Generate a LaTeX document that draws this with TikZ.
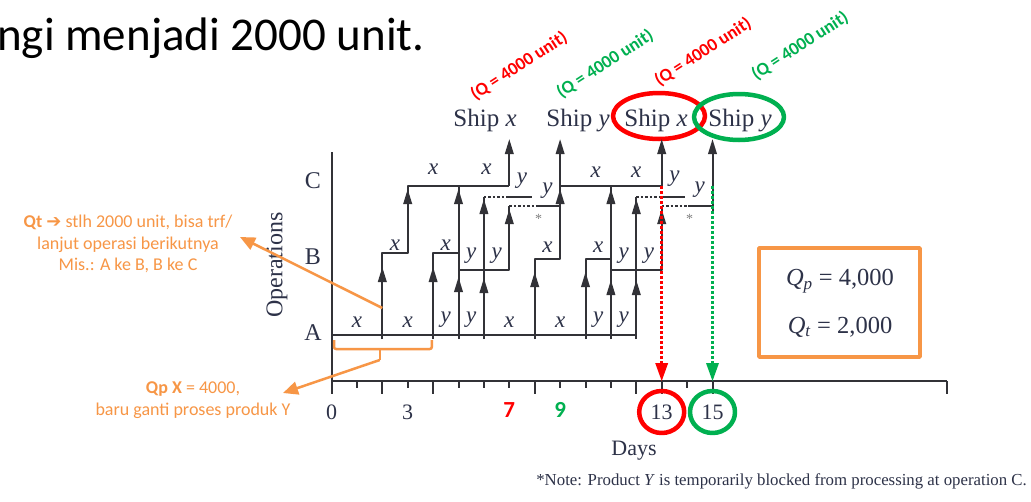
\documentclass[tikz,border=0pt]{standalone}
\usepackage{fontspec}
\setmainfont{Liberation Serif}
\newfontfamily\carl{Carlito}
\newfontfamily\djv{DejaVu Sans}
\usetikzlibrary{arrows.meta}
\definecolor{ora}{RGB}{247,150,70}
\definecolor{grn}{RGB}{0,176,80}
\definecolor{ln}{RGB}{50,50,55}
\definecolor{tx}{RGB}{45,50,72}
\newcommand\fs[1]{\fontsize{#1}{#1}\selectfont}
\tikzset{
  flow/.style={draw=ln, line width=2pt},
  waitline/.style={draw=ln, line width=2pt, dash pattern=on 2.5pt off 2pt},
  shiptip/.style={-{Triangle[length=15pt,width=8.5pt]}},
  lab/.style={font=\itshape\fs{23}, text=tx, inner sep=0},
  shiplab/.style={anchor=base, font=\fs{25}, text=tx, inner sep=0},
  axlab/.style={font=\fs{24}, text=tx, inner sep=0},
  numlab/.style={font=\fs{22}, text=tx, inner sep=0},
  qlab/.style={font=\carl\bfseries\fs{18}, inner sep=0, rotate=33},
  daymark/.style={font=\carl\bfseries\fs{23}, inner sep=0},
  note/.style={align=center, text=ora, font=\carl\fontsize{18}{21.5}\selectfont, inner sep=0},
  oline/.style={draw=ora, line width=2.5pt},
  otip/.style={-{Triangle[length=15pt,width=13pt]}},
  redcirc/.style={draw=red, line width=4.5pt},
  grncirc/.style={draw=grn, line width=4.5pt},
}
\newcommand\mkarr[2]{\draw[flow,shiptip] (#1,{#2+15}) -- (#1,#2);}
\begin{document}
\begin{tikzpicture}[x=1pt, y=-1pt, line join=round]
\fill[white] (0,0) rectangle (1031,501);
\useasboundingbox (0,0) rectangle (1031,501);

% slide title fragment
\node[anchor=base west, inner sep=0, font=\carl\fs{47}] (title) at (-3,50) {ngi menjadi 2000 unit.};

% rotated quantity labels
\node[qlab, text=red] (q1) at (519,66) {(Q = 4000 unit)};
\node[qlab, text=grn] (q2) at (605,64) {(Q = 4000 unit)};
\node[qlab, text=red] (q3) at (703,52) {(Q = 4000 unit)};
\node[qlab, text=grn] (q4) at (800,46) {(Q = 4000 unit)};

% ship labels
\node[shiplab] (s1) at (485,126) {Ship \textit{x}};
\node[shiplab] (s2) at (578,126) {Ship \textit{y}};
\node[shiplab] (s3) at (656,126) {Ship \textit{x}};
\node[shiplab] (s4) at (740,126) {Ship \textit{y}};
\draw[redcirc] (659,116) ellipse [x radius=46pt, y radius=23pt];
\draw[grncirc] (739,117) ellipse [x radius=45pt, y radius=23pt];

% axis labels
\node[axlab] (lc) at (313,181) {C};
\node[axlab] (lb) at (313,257) {B};
\node[axlab] (la) at (313,333) {A};
\node[axlab, rotate=90] (ops) at (277,265) {Operations};

\begin{scope}[xshift=331.5pt, x=25.4pt, y=-1pt]
  % axes
  \draw[flow] (0,152) -- (0,394);
  \draw[flow] (0,381) -- (24.23,381);
  \foreach \t in {1,3,5,6,7,9,10,11,14} \draw[flow] (\t,381) -- (\t,388);
  \foreach \t in {2,4,8,12,13,15,24.23} \draw[flow] (\t,381) -- (\t,394);
  \draw[flow] (0,335) -- (12,335);

  % first x lots
  \draw[flow] (2,339) -- (2,253) -- (3,253) -- (3,186) -- (7,186);
  \draw[flow,shiptip] (7,186) -- (7,139);
  \draw[flow] (4,339) -- (4,253) -- (5,253) -- (5,186);
  \draw[flow] (5,339) -- (5,253);
  % first y lots
  \draw[flow] (5,270) -- (7,270) -- (7,206);
  \draw[flow] (6,339) -- (6,197);
  \draw[waitline] (6,197) -- (7,197);
  \draw[flow] (7,197) -- (7.9,197);
  \draw[waitline] (7,206) -- (8.05,206);
  \draw[flow] (8.05,206) -- (9,206);
  % second x lots
  \draw[flow] (8,339) -- (8,259) -- (9,259) -- (9,186);
  \draw[flow,shiptip] (9,186) -- (9,139);
  \draw[flow] (9,186) -- (13,186);
  \draw[flow,shiptip] (13,186) -- (13,139);
  \draw[flow] (10,339) -- (10,259) -- (11,259);
  \draw[flow] (11,339) -- (11,186);
  % second y lots
  \draw[flow] (11,270) -- (13,270) -- (13,206);
  \draw[flow] (12,339) -- (12,197);
  \draw[waitline] (12,197) -- (13,197);
  \draw[flow] (13,197) -- (13.9,197);
  \draw[waitline] (13,206) -- (14.05,206);
  \draw[flow] (14.05,206) -- (15,206);
  \draw[flow,shiptip] (15,214) -- (15,139);

  % arrowheads along the flow
  \mkarr{2}{267} \mkarr{3}{189} \mkarr{4}{267} \mkarr{5}{189}
  \mkarr{5}{277} \mkarr{6}{278} \mkarr{6}{199} \mkarr{7}{209}
  \mkarr{8}{272} \mkarr{9}{189} \mkarr{10}{272} \mkarr{11}{189}
  \mkarr{11}{280} \mkarr{12}{280} \mkarr{12}{199} \mkarr{13}{209}

  % asterisks
  \node[font=\fs{14}, text=gray, inner sep=0] (ast1) at (8.15,219) {*};
  \node[font=\fs{14}, text=gray, inner sep=0] (ast2) at (14.1,219) {*};

  % lot labels, operation A
  \node[lab] (a1) at (1,322) {x};
  \node[lab] (a2) at (3,322) {x};
  \node[lab] (a3) at (4.5,320) {y};
  \node[lab] (a4) at (5.5,320) {y};
  \node[lab] (a5) at (7,322) {x};
  \node[lab] (a6) at (9,322) {x};
  \node[lab] (a7) at (10.5,320) {y};
  \node[lab] (a8) at (11.5,320) {y};
  % operation B
  \node[lab] (b1) at (2.5,245) {x};
  \node[lab] (b2) at (4.5,245) {x};
  \node[lab] (b3) at (5.5,256) {y};
  \node[lab] (b4) at (6.5,256) {y};
  \node[lab] (b5) at (8.5,247) {x};
  \node[lab] (b6) at (10.5,247) {x};
  \node[lab] (b7) at (11.5,256) {y};
  \node[lab] (b8) at (12.5,256) {y};
  % operation C
  \node[lab] (c1) at (4,169) {x};
  \node[lab] (c2) at (6.1,169) {x};
  \node[lab] (c3) at (7.5,181) {y};
  \node[lab] (c4) at (8.5,191) {y};
  \node[lab] (c5) at (10.4,172) {x};
  \node[lab] (c6) at (12,172) {x};
  \node[lab] (c7) at (13.5,179) {y};
  \node[lab] (c8) at (14.5,190) {y};

  % day numbers
  \node[numlab] (d0) at (0,412) {0};
  \node[numlab] (d3) at (3,412) {3};
  \node[daymark, text=red] (d7) at (7,410) {7};
  \node[daymark, text=grn] (d9) at (9,410) {9};
  \node[numlab] (d13) at (13,412) {13};
  \node[numlab] (d15) at (15,412) {15};
  \draw[redcirc] (13,412) ellipse [x radius=22.5pt, y radius=21pt];
  \draw[grncirc] (15,412) ellipse [x radius=22.5pt, y radius=21pt];

  % dotted markers down to the day axis
  \coordinate (r0) at (13,186);
  \coordinate (r1) at (13,381);
  \coordinate (g0) at (15,186);
  \coordinate (g1) at (15,381);
  \draw[draw=red, line width=2.5pt, dash pattern=on 2.5pt off 2.5pt] (r0) -- (13,364);
  \fill[red] (r1) -- ++(-6.5pt,18pt) -- ++(13pt,0pt) -- cycle;
  \draw[draw=grn, line width=2.5pt, dash pattern=on 2.5pt off 2.5pt] (g0) -- (15,364);
  \fill[grn] (g1) -- ++(-6.5pt,18pt) -- ++(13pt,0pt) -- cycle;

  % orange brace under first two x lots at A
  \draw[oline, rounded corners=2pt] (0.1,340) -- (0.1,349) -- (3.95,349) -- (3.95,340);
  \coordinate (bstem) at (1.9,360);
  \draw[oline] (1.9,349) -- (bstem);
  \coordinate (qtstart) at (2,308);
\end{scope}

\node[font=\fs{22}, text=tx, inner sep=0] (days) at (634,451) {Days};
\node[anchor=east, font=\fs{16.8}, text=tx, inner sep=0] (foot) at (1027,481) {*Note: Product \textit{Y} is temporarily blocked from processing at operation C.};

% Qp Qt box
\draw[draw=ora, line width=3.5pt] (759,248) rectangle (920,357);
\node[font=\fs{24.5}, text=tx, inner sep=0] (qpbox) at (840,281) {\textit{Q}\textsubscript{\textit{p}} = 4,000};
\node[font=\fs{24.5}, text=tx, inner sep=0] (qtbox) at (840,327) {\textit{Q}\textsubscript{\textit{t}} = 2,000};

% orange notes
\node[note] (qt) at (128,244) {\textbf{Qt} {\djv\bfseries ➔} stlh 2000 unit, bisa trf/\\lanjut operasi berikutnya\\Mis.: A ke B, B ke C};
\node[note] (qp) at (193,400) {\textbf{Qp X} = 4000,\\baru ganti proses produk Y};
\coordinate (qttip) at (240,237);
\coordinate (qptip) at (283,393);
\draw[oline, otip] (qtstart) -- (qttip);
\draw[oline, otip] (bstem) -- (qptip);
\end{tikzpicture}
\end{document}
